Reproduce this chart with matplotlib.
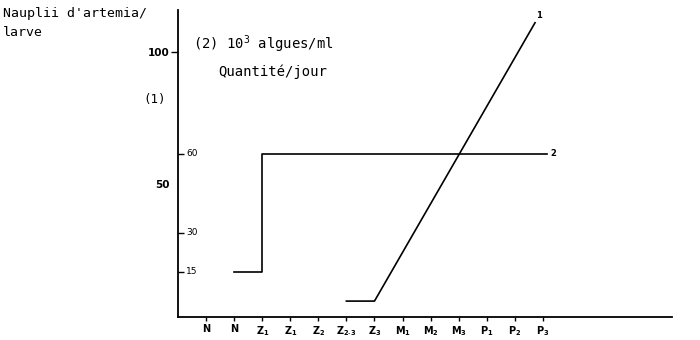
import matplotlib.pyplot as plt
import matplotlib.transforms as mtransforms

plt.rcParams['mathtext.default'] = 'regular'

# stages along x (tick labels)
stages = ['N', 'N', 'Z$_1$', 'Z$_1$', 'Z$_2$', 'Z$_{2\\text{-}3}$', 'Z$_3$',
          'M$_1$', 'M$_2$', 'M$_3$', 'P$_1$', 'P$_2$', 'P$_3$']
stage_pos = list(range(1, len(stages) + 1))

# curve 1 : nauplii d'artemia / larve
naup_x = [6.0, 7.0, 12.72]
naup_y = [6, 6, 111]

# curve 2 : 10^3 algues/ml
alg_x = [2.0, 3.0, 3.0, 13.15]
alg_y = [15, 15, 60, 60]
alg_ticks = [15, 30, 60]

mono = 'DejaVu Sans Mono'

fig = plt.figure(figsize=(7, 3.4), dpi=100)
ax = fig.add_axes([178 / 700, 23 / 340, 494 / 700, 307 / 340])
ax2 = ax.twinx()

ax.set_xlim(0, 17.6)
ax.set_ylim(0, 115.8)
ax2.set_ylim(-2.2, 114.9)

for a in (ax, ax2):
    for s in ['top', 'right']:
        a.spines[s].set_visible(False)
ax2.spines['left'].set_visible(False)
ax2.spines['bottom'].set_visible(False)
ax.spines['left'].set_linewidth(1.3)
ax.spines['bottom'].set_linewidth(1.3)

ax.plot(naup_x, naup_y, color='black', lw=1.2)
ax2.plot(alg_x, alg_y, color='black', lw=1.2)

ax.text(naup_x[-1] + 0.05, naup_y[-1] + 1, '1', fontsize=6, fontweight='bold', ha='left', va='bottom')
ax2.text(alg_x[-1] + 0.12, alg_y[-1], '2', fontsize=6, fontweight='bold', ha='left', va='center')

# x axis
ax.set_xticks(stage_pos)
ax.set_xticklabels(stages, fontsize=7, fontweight='bold')
ax.tick_params(axis='x', direction='out', length=3, width=1, pad=2)

# left scale (1)
ax.set_yticks([50, 100])
ax.set_yticklabels(['50', '100'], fontsize=7.5, fontweight='bold')
ax.tick_params(axis='y', direction='out', length=5, width=1, pad=1)
ax.yaxis.get_major_ticks()[0].tick1line.set_visible(False)
ax.text(-0.025, 82, '(1)', transform=mtransforms.blended_transform_factory(ax.transAxes, ax.transData),
        fontsize=9, family=mono, ha='right', va='center')

# inner scale (2)
ax2.yaxis.set_ticks_position('left')
ax2.set_yticks(alg_ticks)
ax2.tick_params(axis='y', direction='in', length=4, width=1, labelleft=False, labelright=False)
tr = mtransforms.blended_transform_factory(ax2.transAxes, ax2.transData)
for v in alg_ticks:
    ax2.text(0.016, v, str(v), transform=tr, fontsize=6.5, ha='left', va='center')

# titles
fig.text(3 / 700, 1 - 13 / 340, "Nauplii d'artemia/", family=mono, fontsize=9.5, va='center')
fig.text(3 / 700, 1 - 33 / 340, 'larve', family=mono, fontsize=9.5, va='center')
fig.text(193 / 700, 1 - 44 / 340, '(2) 10$^3$ algues/ml', family=mono, fontsize=10, va='center')
fig.text(218 / 700, 1 - 72 / 340, 'Quantité/jour', family=mono, fontsize=10, va='center')

fig.savefig('out.png', dpi=100)
